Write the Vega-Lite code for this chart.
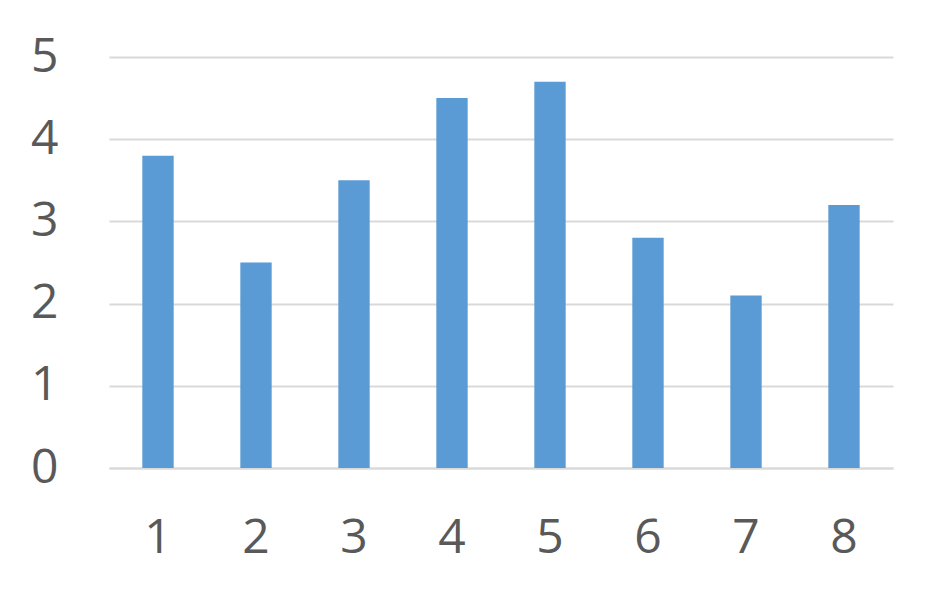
{
  "$schema": "https://vega.github.io/schema/vega-lite/v6.json",
  "width": 784,
  "height": 411,
  "autosize": {"type": "none"},
  "padding": {"left": 109, "top": 57, "right": 53, "bottom": 134},
  "background": "white",
  "config": {
    "view": {"stroke": null},
    "font": "Open Sans"
  },
  "data": {
    "values": [
      {"cat": "1", "value": 3.8},
      {"cat": "2", "value": 2.5},
      {"cat": "3", "value": 3.5},
      {"cat": "4", "value": 4.5},
      {"cat": "5", "value": 4.7},
      {"cat": "6", "value": 2.8},
      {"cat": "7", "value": 2.1},
      {"cat": "8", "value": 3.2}
    ]
  },
  "mark": {"type": "bar", "color": "#5b9bd5"},
  "encoding": {
    "x": {
      "field": "cat",
      "type": "ordinal",
      "sort": null,
      "scale": {"paddingInner": 0.68, "paddingOuter": 0.34},
      "axis": {
        "title": null,
        "labelAngle": 0,
        "labelFontSize": 48,
        "labelColor": "#595959",
        "labelFont": "Open Sans",
        "ticks": false,
        "domain": true,
        "domainColor": "#d9d9d9",
        "domainWidth": 2,
        "labelPadding": 46
      }
    },
    "y": {
      "field": "value",
      "type": "quantitative",
      "scale": {"domain": [0, 5], "nice": false},
      "axis": {
        "title": null,
        "values": [0, 1, 2, 3, 4, 5],
        "labelFontSize": 48,
        "labelColor": "#595959",
        "labelFont": "Open Sans",
        "ticks": false,
        "domain": false,
        "grid": true,
        "gridColor": "#d9d9d9",
        "gridWidth": 2,
        "labelPadding": 51
      }
    }
  }
}
